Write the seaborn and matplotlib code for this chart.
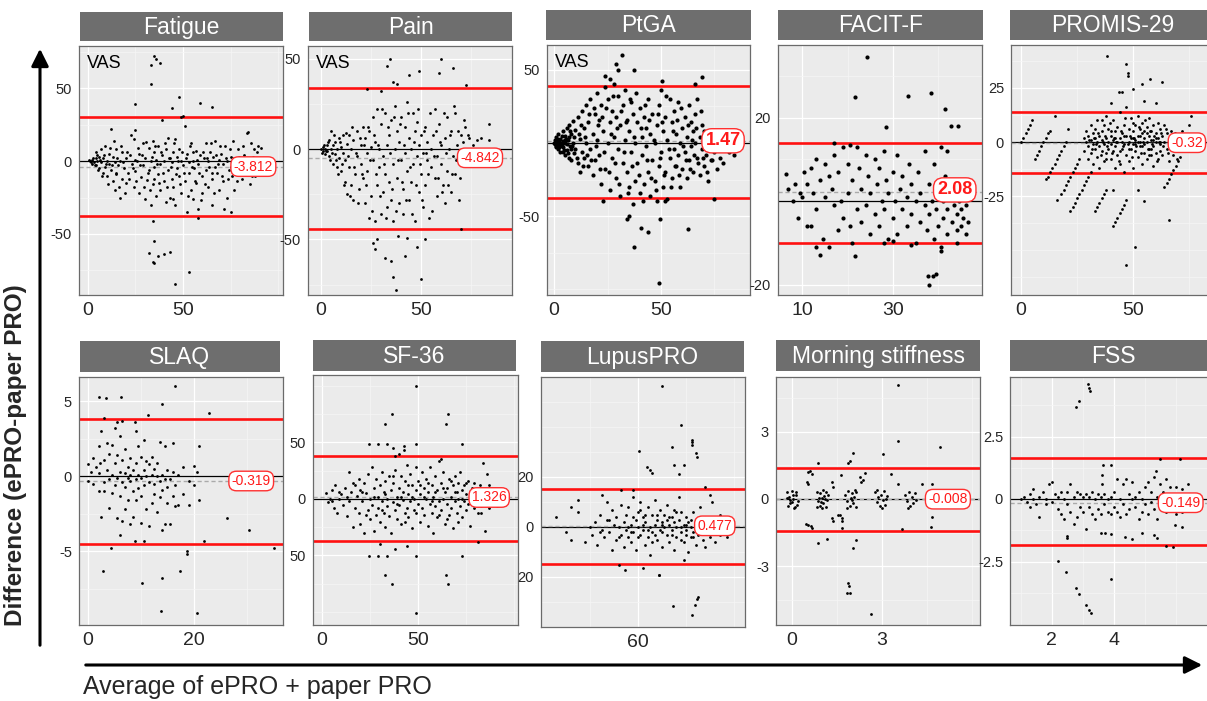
import matplotlib
matplotlib.use("Agg")
import matplotlib.pyplot as plt
from matplotlib.ticker import FixedLocator
import seaborn as sns

sns.set_theme(style="white")
plt.rcParams['font.family'] = ['Liberation Sans', 'DejaVu Sans']

# ---------------- data ----------------
panel_titles = ["Fatigue", "Pain", "PtGA", "FACIT-F", "PROMIS-29",
                "SLAQ", "SF-36", "LupusPRO", "Morning stiffness", "FSS"]
panel_means = [-3.812, -4.842, 1.47, 2.08, -0.32, -0.319, 1.326, 0.477, -0.008, -0.149]
panel_upper = [30.1, 33.5, 39.0, 13.9, 14.0, 3.78, 38.3, 15.2, 1.40, 1.65]
panel_lower = [-37.7, -44.0, -37.5, -10.06, -14.4, -4.49, -37.2, -14.9, -1.45, -1.84]
panel_mean_labels = ["-3.812", "-4.842", "1.47", "2.08", "-0.32",
                     "-0.319", "1.326", "0.477", "-0.008", "-0.149"]
panel_vas = [True, True, True, False, False, False, False, False, False, False]
x_ticks = [[0, 50], [0, 50], [0, 50], [10, 30], [0, 50],
           [0, 20], [0, 50], [60], [0, 3], [2, 4]]
y_ticks = [[-50, 0, 50], [-50, 0, 50], [-50, 50], [-20, 20], [-25, 0, 25],
           [-5, 0, 5], [-50, 0, 50], [-20, 0, 20], [-3, 0, 3], [-2.5, 0, 2.5]]
y_tick_labels = [["-50", "0", "50"], ["-50", "0", "50"], ["-50", "50"], ["-20", "20"],
                 ["-25", "0", "25"], ["-5", "0", "5"], ["50", "0", "50"],
                 ["20", "0", "20"], ["-3", "0", "3"], ["-2.5", "0", "2.5"]]

fatigue_pts = [(1,0),(2,1),(3,-1),(2,-2),(4,2),(4,-3),(5,0),(5,4),(6,-5),(6,3),(7,-1),(7,8),(8,-8),(8,2),(9,-4),(9,10),(10,0),(10,-10),(11,5),(11,-2),(12,22),(12,-6),(13,-14),(13,3),(14,-20),(14,-1),(15,8),(15,-9),(16,-3),(17,-25),(17,0),(18,6),(18,-12),(19,-5),(20,2),(20,-15),(21,-8),(22,4),(23,-2),(24,15),(24,-18),(25,21),(25,-7),(26,0),(27,-22),(27,5),(28,-11),(29,12),(29,-3),(30,-26),(30,2),(31,-13),(32,9),(32,-6),(33,0),(33,-30),(34,14),(34,-16),(35,-4),(35,6),(36,-24),(36,1),(37,10),(37,-9),(38,-2),(38,-20),(39,28),(39,4),(40,-14),(40,0),(41,-28),(41,8),(42,-6),(42,16),(43,-25),(43,2),(44,-12),(44,-1),(45,6),(45,-18),(46,15),(46,-30),(47,-5),(47,3),(48,-10),(48,8),(49,-22),(49,0),(50,31),(50,-3),(51,-14),(51,24),(52,-35),(52,5),(53,-8),(53,-1),(54,-20),(54,12),(55,0),(55,-26),(56,-5),(57,7),(57,-15),(58,-2),(58,-33),(59,4),(60,-10),(60,-22),(61,2),(62,-6),(62,12),(63,-18),(63,0),(64,6),(65,-12),(65,-30),(66,3),(67,-4),(67,14),(68,-8),(69,-20),(69,1),(70,5),(71,-14),(71,-2),(72,10),(73,-25),(73,0),(74,-6),(75,-35),(75,3),(76,-10),(77,2),(77,-20),(78,-5),(79,8),(80,-2),(81,-12),(82,4),(83,-8),(84,20),(84,0),(85,-16),(86,12),(86,-4),(87,3),(88,-10),(89,6),(90,-2),(91,9),(92,1),
               (0.5,1),(1.5,-1),(2.5,2),(3.5,-3),(4.5,6),(5.5,-6),(6.5,1),(7.5,-10),(8.5,4),(9.5,-2),(10.5,-16),(11.5,9),(12.5,-3),(13.5,14),(14.5,-8),(15.5,2),(16.5,-18),(17.5,10),(18.5,-1),(19.5,-22),(20.5,6),(21.5,-12),(22.5,18),(23.5,-5),(24.5,1),(25.5,-14),(26.5,9),(27.5,-3),(28.5,4),(29.5,-18),(30.5,13),(31.5,-8),(32.5,-20),(33.5,3),(34.5,-12),(35.5,10),(36.5,-2),(37.5,-15),(38.5,6),(39.5,-8),(40.5,12),(41.5,-18),(42.5,2),(43.5,-4),(44.5,-26),(45.5,12),(46.5,-9),(47.5,0),(48.5,-16),(49.5,6),(50.5,-8),(51.5,2),(52.5,-24),(53.5,10),(54.5,-4),(55.5,6),(56.5,-14),(57.5,1),(58.5,-8),(59.5,-27),(60.5,6),(61.5,-16),(62.5,2),(63.5,-4),(64.5,12),(65.5,-8),(66.5,-22),(67.5,4),(68.5,-2),(69.5,10),(70.5,-10),(71.5,-33),(72.5,2),(73.5,-12),(74.5,8),(75.5,-4),(76.5,14),(77.5,-2),(78.5,-14),(79.5,3),(80.5,-7),(81.5,10),(82.5,-3),(83.5,19),(84.5,-6),(85.5,2),(86.5,-10),(87.5,8),(88.5,-2),(89.5,10),
               (33,53),(33,66),(35,72),(36,70),(38,67),(44,36),(48,44),(59,40),(65,37),(25,39),(34,-41),(35,-55),(32,-63),(37,-65),(40,-64),(43,-62),(34,-69),(35,-70),(53,-76),(46,-84),(58,-39),(49,30)]

pain_pts = [(0,0),(1,-1),(1,1),(2,0),(2,-3),(3,2),(3,-1),(4,5),(4,-4),(5,0),(5,10),(6,-8),(6,2),(7,-3),(7,4),(8,-10),(8,0),(9,6),(9,-5),(10,-12),(10,1),(11,8),(11,-2),(12,-18),(12,-6),(13,3),(13,-25),(14,-10),(14,8),(15,-20),(15,0),(16,-28),(16,5),(17,-14),(18,10),(18,-4),(19,-22),(20,2),(20,-8),(21,12),(21,-16),(22,-30),(22,6),(23,-12),(23,-2),(24,-38),(24,10),(25,-26),(25,1),(26,18),(26,-6),(27,-40),(27,4),(28,-20),(28,22),(29,-10),(29,0),(30,-36),(30,14),(31,-4),(31,-24),(32,20),(32,-14),(33,-32),(33,2),(34,8),(34,-18),(35,-28),(35,16),(36,-8),(36,-40),(37,24),(37,0),(38,-16),(38,10),(39,-30),(39,4),(40,-6),(40,18),(41,-22),(41,-36),(42,12),(42,-2),(43,-12),(43,26),(44,-28),(44,6),(45,0),(45,-18),(46,20),(46,-8),(47,-40),(47,10),(48,-4),(48,15),(49,-24),(49,2),(50,-14),(50,8),(51,-32),(51,-2),(52,12),(52,-20),(53,-6),(53,4),(54,-38),(55,0),(55,-10),(56,8),(57,-16),(57,22),(58,-4),(58,-26),(59,14),(60,-8),(60,2),(61,-20),(62,6),(62,-30),(63,-12),(63,18),(64,0),(65,-24),(65,10),(66,-4),(67,20),(67,-14),(68,2),(69,-28),(70,8),(70,-6),(71,4),(72,-2),(72,12),(73,0),(74,6),(75,-1),(78,5),(84,5),(84,14),
            (0.5,-2),(1.5,2),(2.5,-1),(3.5,4),(4.5,-6),(5.5,-2),(6.5,8),(7.5,-6),(8.5,-14),(9.5,4),(10.5,-8),(11.5,-20),(12.5,9),(13.5,-4),(14.5,-26),(15.5,12),(16.5,-10),(17.5,-2),(18.5,-30),(19.5,6),(20.5,-14),(21.5,2),(22.5,-20),(23.5,12),(24.5,-6),(25.5,-34),(26.5,8),(27.5,-14),(28.5,2),(29.5,-26),(30.5,22),(31.5,-8),(32.5,-38),(33.5,12),(34.5,-2),(35.5,-22),(36.5,18),(37.5,-34),(38.5,-6),(39.5,14),(40.5,-18),(41.5,2),(42.5,-28),(43.5,20),(44.5,-10),(45.5,-36),(46.5,4),(47.5,-20),(48.5,22),(49.5,-8),(50.5,-28),(51.5,10),(52.5,-2),(53.5,-14),(54.5,20),(55.5,-34),(56.5,-4),(57.5,10),(58.5,-16),(59.5,4),(60.5,-24),(61.5,20),(62.5,-2),(63.5,-20),(64.5,8),(65.5,-14),(66.5,24),(67.5,-6),(68.5,10),(69.5,-16),(70.5,0),(71.5,16),(72.5,-8),(73.5,8),(74.5,-4),(76,2),(80,6),
            (34.5,50),(33,46),(60,50),(66,45),(59,42),(49,43),(44,41),(38,36),(36,37),(30,32),(23,33),(72.5,35.5),(26,-52),(28,-50),(27,-55),(32,-60),(35,-62),(42,-59),(48,-54),(52,-50),(50,-72),(36,-71),(37.5,-78),(38.5,-48),(43,-49),(70,-44)]

ptga_pts = [(0,0),(0.5,2),(1,-2),(1,4),(1.5,0),(2,-4),(2,6),(2.5,1),(3,-6),(3,3),(3.5,-1),(4,8),(4,-3),(5,5),(5,-8),(5,0),(6,10),(6,-5),(6.5,2),(7,-10),(7,12),(7.5,-2),(8,6),(8,-12),(9,15),(9,0),(9.5,-7),(10,9),(10,-4),(11,18),(11,-14),(12,3),(12,-20),(13,22),(13,-6),(14,10),(14,-10),(15,26),(15,0),(16,-16),(16,14),(17,30),(17,-4),(18,6),(18,-22),(19,20),(19,-12),(20,34),(20,2),(21,-8),(21,16),(22,-28),(22,26),(23,8),(23,-40),(24,-18),(24,38),(25,0),(25,30),(26,-32),(26,14),(27,22),(27,-10),(28,40),(28,4),(29,-24),(29,18),(30,-4),(30,32),(31,12),(31,-36),(32,26),(32,-14),(33,2),(33,36),(34,-20),(34,16),(35,-30),(35,8),(36,28),(36,-6),(37,-42),(37,20),(38,0),(38,-26),(39,14),(39,-14),(40,24),(40,-34),(41,4),(41,-8),(42,18),(42,-28),(43,-2),(43,10),(44,-20),(44,30),(45,-36),(45,6),(46,-12),(46,20),(47,-26),(47,0),(48,-40),(48,12),(49,26),(49,-16),(50,-6),(50,36),(51,-30),(51,8),(52,-20),(52,18),(53,2),(53,-38),(54,-10),(54,30),(55,14),(55,-24),(56,-4),(56,22),(57,6),(57,-16),(58,28),(58,-8),(59,-30),(59,0),(60,10),(60,-18),(61,18),(61,-6),(62,-24),(62,4),(63,26),(63,-12),(64,-2),(64,14),(65,-20),(65,8),(66,0),(66,20),(67,-10),(67,30),(68,4),(68,-22),(69,12),(69,-4),(70,-16),(70,8),(71,-8),(71,2),(72,-26),(73,-4),(74,4),(74,-12),(75,-6),(76,-18),(77,0),(80,-5),(80,2),(84,3),(84,-8),
            (0.5,-1),(1.5,3),(2.5,-3),(3.5,5),(4.5,-5),(5.5,3),(6.5,-7),(7.5,8),(8.5,-2),(9.5,4),(10.5,-10),(11.5,6),(12.5,12),(13.5,-16),(14.5,4),(15.5,-8),(16.5,20),(17.5,-12),(18.5,24),(19.5,-2),(20.5,12),(21.5,-18),(22.5,18),(23.5,-6),(24.5,24),(25.5,-20),(26.5,6),(27.5,32),(28.5,-14),(29.5,10),(30.5,-28),(31.5,22),(32.5,-6),(33.5,14),(34.5,-34),(35.5,30),(36.5,-16),(37.5,4),(38.5,34),(39.5,-22),(40.5,10),(41.5,-40),(42.5,26),(43.5,-12),(44.5,16),(45.5,-24),(46.5,2),(47.5,-32),(48.5,20),(49.5,-10),(50.5,14),(51.5,-22),(52.5,32),(53.5,-4),(54.5,-30),(55.5,8),(56.5,-16),(57.5,16),(58.5,-22),(59.5,24),(60.5,-2),(61.5,-12),(62.5,12),(63.5,-18),(64.5,2),(65.5,-8),(66.5,10),(67.5,-14),(68.5,22),(69.5,-10),(70.5,0),(71.5,-20),(72.5,6),(73.5,-12),(75.5,-3),(77.5,-10),(79,-14),(82,-6),
            (1,1),(2,-1),(3,0),(4,1),(2,2),(3,-2),(1,-3),(5,2),(6,-1),(4,-6),(7,4),(8,-4),
            (31.6,60),(29,54),(30,50),(37.5,50),(23.8,45.7),(26,44),(69,45),(50.6,42.6),(66,40),(37.5,-71.3),(48.9,-96),(34,-52),(35,-50),(40.8,-58),(44,-61),(49.5,-52),(62.6,-59),(75,-38),(52,-40)]

facit_pts = [(6.5,6.5),(7,3),(8,0),(8.5,4),(9,-4),(9.5,2),(10,1),(10.5,7),(11,-6),(11,4),(12,-6),(12,8),(12.5,2),(13,10),(13,-2),(14,-13),(14,5),(14.5,-9),(15,9),(15,1),(16,6),(16,-11),(16.5,3),(17,11),(17,-1),(18,-7),(18,7),(18.5,0),(19,13),(19,-4),(20,2),(20,9),(20.5,-6),(21,5),(21,-10),(22,13),(22,-2),(22.5,8),(23,-5),(23,3),(24,11),(24,-1),(24.5,6),(25,-8),(25,2),(26,10),(26,-3),(26.5,4),(27,-6),(27,8),(27.5,0),(28,12),(28,-2),(28.5,5),(29,-9),(29,2),(30,7),(30,-4),(30.5,0),(31,11),(31,-8),(31.5,3),(32,-2),(32,6),(33,-6),(33,1),(33.5,9),(34,-3),(34,4),(35,-10),(35,0),(35.5,7),(36,-5),(36,2),(37,-1),(37,12),(37.5,-7),(38,4),(38,-3),(38.5,0),(39,-9),(39,9),(39.5,-2),(40,2),(40,-6),(40.5,-11),(41,0),(41,-4),(41.5,6),(42,-2),(42,-8),(42.5,1),(43,-5),(43,3),(43.5,-1),(44,-7),(44,-3),(44.5,0),(45,-6),(45,-2),(45.5,-4),(46,-8),(46,-1),(46.5,-5),
             (24.2,34.6),(21.6,24.9),(33.4,25.1),(38.4,25.9),(41.4,22),(42.8,17.9),(44.3,17.9),(28.5,17.8),(21.6,-13.2),(40.6,-12),(37.7,-18),(38.9,-18),(39.5,-17.5),(38,-20),(20.5,13.5),(17,14),(40.5,13),(42,12),(44,-10),(13,-11),(28,-10),(30,-9.5),(34,-10.5)]

promis_pts = [(0,0),(1,2),(2,4),(3,6),(4,8),(5,10),
              (6,-8),(7,-6),(8,-4),(9,-2),(10,0),(11,2),(12,4),(13,5),
              (12,-16),(13,-14),(14,-12),(15,-10),(16,-8),(17,-6),(18,-4),(19,-2),(20,0),
              (18,-24),(19,-22),(20,-20),(21,-18),(22,-16),(23,-14),(24,-12),(25,-10),(26,-8),
              (22,-32),(23,-30),(24,-28),(25,-26),(26,-24),(27,-22),(28,-20),(29,-18),(30,-16),(31,-14),
              (33,-32),(34,-30),(35,-28),(36,-26),(37,-24),(38,-22),
              (41,-39),(42,-37),(43,-35),(44,-33),(45,-31),(46,-29),(47,-27),
              (64,-21),(65,-19),(66,-17),(67,-15),(68,-13),(69,-11),(70,-9),(71,-7),
              (15,12),(11,-17),(16,-27),(21,6),
              (28,2),(28,-4),(29,0),(29,5),(30,-2),(30,-8),(30,3),(31,1),(31,-5),(31,8),(32,-1),(32,4),(32,-10),(33,2),(33,-3),(33,6),(34,0),(34,-7),(34,10),(35,3),(35,-2),(35,-12),(36,5),(36,-4),(36,1),(37,-1),(37,8),(37,-9),(38,2),(38,-5),(38,12),(39,0),(39,-3),(39,6),(40,-8),(40,3),(40,-1),(41,10),(41,-4),(41,1),(42,-12),(42,5),(42,-2),(43,0),(43,7),(43,-6),(44,2),(44,-10),(44,14),(45,-3),(45,4),(45,0),(46,-14),(46,8),(46,-1),(47,3),(47,-6),(47,16),(48,0),(48,-9),(48,6),(49,-3),(49,11),(49,2),(50,-1),(50,5),(50,-12),(51,8),(51,-4),(51,1),(52,3),(52,-7),(52,12),(53,0),(53,-2),(53,6),(54,-10),(54,4),(54,9),(55,-5),(55,2),(55,-1),(56,7),(56,-8),(56,0),(57,3),(57,-3),(57,11),(58,-6),(58,1),(58,5),(59,-2),(59,8),(59,-11),(60,0),(60,4),(60,-5),(61,2),(61,-8),(61,9),(62,-1),(62,6),(62,-4),(63,3),(63,-6),(64,0),(64,8),(65,-3),(65,4),(66,1),(66,-9),(67,5),(67,-2),(68,0),(68,-6),(69,3),(70,-4),(71,1),(72,5),(73,-3),(75,8),(76,12),
              (30.5,1),(31.5,-3),(32.5,2),(33.5,-1),(34.5,4),(35.5,-6),(36.5,0),(37.5,3),(38.5,-2),(39.5,9),(40.5,-5),(41.5,2),(42.5,0),(43.5,-9),(44.5,5),(45.5,-2),(46.5,11),(47.5,-1),(48.5,3),(49.5,-7),(50.5,2),(51.5,-2),(52.5,7),(53.5,-5),(54.5,0),(55.5,10),(56.5,-3),(57.5,5),(58.5,-1),(59.5,3),(60.5,-9),(61.5,0),(62.5,4),(63.5,-2),(64.5,6),(65.5,-5),(66.5,2),(67.5,-1),(68.5,4),(69.5,-8),(44,-4),(46,3),(48,-3),(50,9),(52,0),(54,-2),(56,4),(58,-3),(60,2),(62,0),(40,5),(42,2),(38,-8),(36,10),(50,2),(51,-1),(53,3),(55,5),(57,-6),(59,1),
              (38.5,40),(47,36),(47.5,32),(47.5,30.5),(57.4,29),(63,28),(54,27),(50,24.5),(43.5,23),(45,23),(66,-36),(51,-48.5),(47,-56.7),(54.7,-27.3),(52,-22),(41,-22),(55,19),(60,18),(40,18),(86,-10)]

slaq_pts = [(0,0.8),(0,-0.3),(0.5,0.3),(1,-0.5),(1,1.2),(1.5,0.6),(2,-1),(2,2),(2,0.2),(2.5,-2.7),(2.5,3),(3,-0.4),(3,1.1),(3,-1.0),(3.5,0.4),(3.5,2.2),(4,-0.2),(4,1.5),(4,-2.1),(4.5,0.1),(4.5,2.1),(4.5,-1.1),(5,-0.6),(5,0.9),(5,3.2),(5.5,-0.1),(5.5,1.4),(5.5,-2.8),(6,0.3),(6,-1.3),(6,2.7),(6,-3.9),(6.5,-0.4),(6.5,1.1),(6.5,-3.0),(7,0.2),(7,-0.7),(7,1.8),(7,-2.2),(7.5,-0.1),(7.5,0.6),(7.5,-1.6),(8,0.1),(8,-0.3),(8,1.2),(8,-3.2),(8.5,0.4),(8.5,-1.0),(8.5,-2.7),(9,-0.2),(9,0.9),(9,3.0),(9,-1.6),(9.5,0.1),(9.5,-0.8),(9.5,2.0),(10,-0.1),(10,1.3),(10,-1.3),(10,-3.1),(10.5,0.4),(10.5,-0.6),(10.5,2.4),(11,0.0),(11,-2.2),(11,1.0),(11.5,-0.4),(11.5,0.8),(11.5,-3.3),(12,0.1),(12,-1.8),(12,1.3),(12.5,-0.5),(12.5,0.5),(12.5,-1.2),(13,0.0),(13,-2.4),(13,0.9),(13.5,-0.3),(13.5,-1.4),(13.5,2.3),(14,0.1),(14,-3.6),(14,-0.9),(14.5,-0.2),(14.5,2.0),(14.5,-3.2),(15,-0.7),(15,0.4),(15,-1.8),(15.5,-0.2),(15.5,-3.2),(16,0.3),(16,-1.3),(16,2.2),(16.5,-2.0),(16.5,-0.6),(17,-1.9),(17,0.1),(18,0.6),(18,-1.2),(19,-0.3),(19,-1.9),(20,0.7),(20,-0.6),(20.5,0.3),(21,-1.6),(21,2.0),
            (16.4,6.0),(2.1,5.3),(3.4,5.2),(6.2,5.3),(14,4.8),(22.8,4.2),(11.4,4.07),(3.1,3.9),(6.5,3.7),(8.9,3.6),(4.3,-4.8),(2.8,-6.3),(10.1,-7.1),(13.9,-6.8),(17.3,-6.3),(18.7,-5.0),(18.7,-5.2),(26.3,-2.8),(30.4,-3.6),(35.1,-4.8),(13.8,-9.0),(20.5,-9.1),(21.9,-4.3),(10.5,-4.3),(8.9,-4.3),(5.5,3.6),(2.2,0.9)]

sf36_pts = [(2,5),(3,-3),(4,0),(5,8),(6,-8),(7,12),(8,-12),(9,0),(10,4),(11,-5),(12,10),(13,-15),(14,24),(14,-2),(15,6),(16,-25),(16,14),(17,-8),(18,3),(19,18),(19,-12),(20,-22),(20,8),(21,-2),(22,14),(22,-30),(23,5),(24,-10),(24,22),(25,0),(25,-18),(26,28),(26,-5),(27,10),(27,-28),(28,-14),(28,18),(29,2),(29,-8),(30,12),(30,-20),(31,24),(31,-2),(32,-12),(32,6),(33,16),(33,-25),(34,0),(34,-6),(35,20),(35,-15),(36,8),(36,-30),(37,-3),(37,14),(38,26),(38,-10),(39,2),(39,-18),(40,10),(40,-5),(41,20),(41,-22),(42,-1),(42,6),(43,-12),(43,16),(44,30),(44,-8),(45,4),(45,-16),(46,22),(46,-2),(47,-26),(47,12),(48,0),(48,-10),(49,8),(49,28),(50,-4),(50,16),(51,-20),(51,4),(52,24),(52,-8),(53,-14),(53,10),(54,0),(54,18),(55,-24),(55,6),(56,-4),(56,28),(57,12),(57,-12),(58,2),(58,-30),(59,20),(59,-6),(60,8),(60,-16),(61,-2),(61,34),(62,14),(62,-10),(63,0),(63,24),(64,-22),(64,6),(65,10),(65,-4),(66,18),(66,-14),(67,2),(67,-8),(68,12),(68,-26),(69,-2),(69,20),(70,6),(70,-12),(71,14),(71,0),(72,-6),(72,24),(73,8),(73,-16),(74,-2),(74,12),(75,4),(75,-10),(76,16),(76,-4),(77,0),(77,-24),(78,10),(78,2),(79,-8),(79,14),(80,6),(80,-2),(81,-12),(82,12),(82,0),(83,4),(83,-6),(84,8),(85,-4),(86,22),(86,2),(87,-8),(88,10),(89,-4),(90,6),(91,-6),(92,2),
            (5,-2),(9,6),(13,2),(17,12),(21,6),(23,-14),(27,2),(31,-10),(33,4),(37,20),(39,-4),(41,2),(43,-20),(45,12),(47,2),(49,-12),(51,12),(53,2),(55,14),(57,-2),(59,6),(61,-14),(63,10),(65,-18),(67,16),(69,6),(71,-20),(73,0),(75,14),(77,6),(79,-2),(81,8),(83,-12),(85,4),(87,12),(89,2),
            (49,100),(49,-101),(36.6,75),(65.8,75),(32.8,66),(64.7,66),(36.6,-75.5),(65.8,-75.5),(32.8,-67),(64.7,-67),(24.5,49),(29.3,49),(34,49),(49,49),(72.8,49),(24.5,-50.5),(29.3,-50.5),(34,-50.5),(49,-50.5),(72.8,-50.5),(42.9,47),(42.9,43),(37,45),(38,38),(30,-40),(44,-42),(38,-44),(81,-38),(85,-28),(84,32),(62,35),(40,40)]

lupus_pts = [(26,4),(30,-2),(32,-5),(35,6),(38,-6),(40,0),(41,-3),(42,2),(43,-7),(44,5),(45,-1),(46,-4),(47,10),(47,3),(48,-2),(49,7),(49,-9),(50,1),(51,-5),(51,4),(52,0),(53,9),(53,-3),(54,-8),(54,2),(55,5),(55,-1),(56,-4),(56,8),(57,1),(57,-6),(58,12),(58,-2),(59,3),(59,-9),(60,0),(60,6),(61,-3),(61,10),(62,-1),(62,4),(63,-7),(63,2),(64,8),(64,-4),(65,0),(65,-11),(66,5),(66,-2),(67,11),(67,1),(68,-5),(68,3),(69,-1),(69,7),(70,-8),(70,2),(71,0),(71,5),(72,-3),(72,9),(73,1),(73,-6),(74,4),(74,-1),(75,-9),(75,7),(76,0),(76,-4),(77,3),(77,12),(78,-2),(78,6),(79,-6),(79,1),(80,-1),(80,4),(81,-10),(81,2),(82,0),(82,-4),(83,6),(83,-2),(84,-7),(84,1),(85,3),(85,-3),(86,-1),(86,8),(87,-5),(87,2),(88,0),(88,-8),(89,4),(89,-2),(90,1),(90,-4),(91,10),(91,-1),(92,3),(92,-6),(93,0),(94,-3),(94,5),(95,-1),(96,2),(97,-4),(98,1),
             (44,-2),(48,3),(52,-4),(56,0),(58,4),(60,-4),(62,1),(64,-1),(66,-6),(68,5),(70,-2),(72,3),(74,-3),(76,6),(78,0),(80,-3),(82,3),(84,-1),(86,1),(88,4),(90,-1),(92,-2),(94,2),(96,-1),(70,1),(75,2),(80,1),(85,0),(78,-5),(83,-4),(73,4),(67,-3),(63,5),(57,-2),(61,7),
             (70.1,56.4),(78,41),(82.4,35),(82.4,34),(82.4,33),(84,29.7),(84.5,28),(74.3,32),(60.4,30.4),(75,24.8),(79,24.8),(77.2,21.2),(63.6,24),(65,23),(66,21.6),(68.9,-19),(68.9,-19.3),(74.5,-31.6),(82.6,-35.3),(83.6,-31.3),(84.7,-28.8),(85.1,-27.9),(54.6,-17),(52.2,-15.3),(62.2,-16.5),(79.3,-13.2),(53,15),(58,15),(88,16),(45,13),(35,11),(32,8),(90,13)]

stiff_pts = [(-0.15,0.3),(-0.1,0.1),(-0.05,-0.2),(0,0.35),(0.05,0.0),(0.1,-0.35),(0.15,0.2),(0.2,-0.1),(-0.12,-0.3),(0.02,0.18),(0.12,0.32),(-0.08,-0.05),(0.18,-0.28),(0.06,-0.4),(-0.18,0.05),(0.0,-0.15),
             (0.82,0.3),(0.88,-0.1),(0.92,0.25),(0.95,-0.3),(1.0,0.05),(1.02,0.38),(1.05,-0.2),(1.08,0.15),(1.12,-0.38),(1.15,0.3),(1.18,-0.05),(0.85,-0.35),(0.9,0.05),(0.98,-0.12),(1.1,0.0),(1.2,0.2),(1.0,-0.4),
             (1.78,0.2),(1.82,-0.1),(1.88,0.35),(1.92,-0.3),(1.96,0.05),(2.0,0.25),(2.04,-0.2),(2.08,0.1),(2.12,-0.38),(2.15,0.3),(1.85,-0.4),(2.0,-0.05),(2.1,0.4),
             (2.78,0.3),(2.82,-0.15),(2.88,0.1),(2.92,-0.3),(2.98,0.2),(3.02,-0.05),(3.06,0.35),(3.1,-0.25),(3.15,0.0),(2.85,0.4),(3.0,-0.4),(3.18,0.15),
             (3.78,0.2),(3.85,-0.1),(3.9,0.3),(3.95,-0.3),(4.0,0.1),(4.05,-0.2),(4.1,0.25),(4.15,-0.05),(3.88,-0.4),
             (0.52,1.2),(0.6,1.25),(0.68,1.1),(0.5,0.78),(0.55,0.67),(0.48,-1.1),(0.55,-1.15),(0.62,-1.2),(0.68,-1.3),(0.88,1.63),(0.88,-1.96),(1.16,-1.8),(1.34,0.78),(1.36,0.55),(1.34,-0.84),(1.36,-1.0),(1.55,-0.72),(1.6,-0.7),(1.66,-0.84),(1.68,-0.97),(1.63,1.07),(1.66,-1.3),(1.88,1.6),(1.92,1.68),(2.04,2.07),(2.02,-2.2),(2.15,-1.85),(1.87,-3.76),(1.9,-3.9),(1.92,-4.2),(1.85,-4.2),(2.26,0.98),(2.3,0.76),(2.36,0.85),(2.42,1.18),(2.63,-5.15),(3.04,2.0),(3.3,1.12),(3.54,2.61),(3.52,5.1),(3.54,0.66),(3.66,-1.36),(4.32,0.65),(4.66,0.67),(4.66,-0.8),(4.62,-1.25),(4.93,2.31)]

fss_pts = [(1.0,0.0),(1.1,0.1),(1.2,-0.1),(1.3,0.2),(1.3,-0.3),(1.4,0.4),(1.4,0.0),(1.5,-0.2),(1.6,-0.7),(1.6,0.1),(1.7,0.3),(1.8,0.0),(1.8,-0.2),(1.9,0.6),(2.0,0.7),(2.0,-0.1),(2.1,0.2),(2.2,-0.4),(2.2,0.1),(2.3,-0.6),(2.3,0.3),(2.4,0.0),(2.4,-0.8),(2.5,0.3),(2.5,-0.2),(2.6,0.6),(2.6,-0.5),(2.7,0.1),(2.7,-1.0),(2.8,0.3),(2.8,-0.7),(2.9,-0.3),(2.9,0.2),(3.0,0.1),(3.0,-0.5),(3.1,0.2),(3.1,-1.2),(3.2,-0.3),(3.2,0.1),(3.3,-0.6),(3.3,0.3),(3.4,0.0),(3.4,-0.8),(3.5,0.2),(3.5,-0.4),(3.6,0.1),(3.6,-0.6),(3.7,-0.2),(3.7,0.2),(3.8,-0.5),(3.8,0.0),(3.9,0.1),(3.9,-0.6),(4.0,-0.3),(4.0,0.3),(4.1,0.8),(4.1,-0.5),(4.2,0.0),(4.2,-0.7),(4.3,0.6),(4.3,-0.2),(4.4,0.8),(4.4,-0.6),(4.5,0.2),(4.5,-0.4),(4.6,0.0),(4.6,0.7),(4.7,-0.3),(4.7,0.1),(4.8,-0.8),(4.8,0.3),(4.9,0.0),(4.9,-0.5),(5.0,0.5),(5.0,-0.2),(5.1,0.7),(5.1,-0.6),(5.2,0.3),(5.2,-0.1),(5.3,0.9),(5.3,-0.4),(5.4,0.1),(5.4,-0.8),(5.5,0.6),(5.5,-0.3),(5.6,0.3),(5.6,-0.2),(5.7,0.8),(5.7,-0.5),(5.8,0.0),(5.8,0.5),(5.9,-0.3),(5.9,0.2),(6.0,0.5),(6.0,-0.6),(6.1,0.0),(6.2,-0.5),(6.2,0.4),(6.3,-0.2),(6.4,0.6),(6.5,-0.1),
           (3.17,4.6),(3.2,4.45),(3.23,4.33),(2.77,3.69),(2.88,3.92),(2.2,-2.47),(2.45,-2.93),(2.77,-3.57),(2.88,-3.8),(3.1,-4.24),(3.2,-4.45),(3.26,-4.57),(3.92,-3.2),(3.64,1.36),(3.92,1.36),(3.62,0.95),(3.62,0.6),(5.48,1.61),(6.13,1.61),(5.35,1.14),(2.5,-1.47),(2.5,-1.55),(3.6,-1.35),(3.72,-1.35),(3.9,-1.4),(4.35,-1.5),(4.6,-1.6),(4.9,-1.35),(5.3,-1.45),(5.4,-1.55),(5.68,-1.88),(5.9,-1.93),(5.99,-1.05),(6.2,-1.1)]

panel_points = [fatigue_pts, pain_pts, ptga_pts, facit_pts, promis_pts,
                slaq_pts, sf36_pts, lupus_pts, stiff_pts, fss_pts]

# ---------------- layout (pixels in a 1207x701 canvas) ----------------
W, H = 1207, 701
ax_px = [(79, 46, 283, 295), (308, 46, 512, 295), (547, 45, 750, 295), (778, 45, 982, 295), (1011, 45, 1216, 295),
         (79, 377, 283, 625), (313, 375, 518, 625), (541, 377, 745, 627), (776, 377, 980, 625), (1010, 377, 1216, 625)]
strip_px = [(80, 12, 283, 41), (309, 12, 512, 41), (546, 10, 751, 40), (778, 10, 983, 40), (1010, 10, 1216, 40),
            (80, 341, 280, 372), (313, 340, 516, 371), (541, 341, 744, 372), (776, 340, 980, 371), (1010, 340, 1216, 371)]
xlims = [(-4.7, 102.6), (-6.5, 95.5), (-3.3, 91.6), (4.7, 49.6), (-4.5, 87),
         (-1.7, 36.8), (-4.7, 102), (19.6, 104.6), (-0.53, 6.27), (0.65, 7.3)]
ylims = [(-91.8, 78.8), (-80.7, 57), (-104, 67), (-22.5, 37.4), (-70.8, 44.9),
         (-9.9, 6.6), (-111.5, 109.7), (-40, 60), (-5.64, 5.46), (-5.04, 4.88)]
x_minor = [[25, 75, 100], [25, 75], [25, 75], [20, 40], [25, 75],
           [10, 30], [25, 75, 100], [40, 80, 100], [1.5, 4.5, 6], [1, 3, 5, 6]]
y_minor = [[-75, -25, 25, 75], [-75, -25, 25], [-100, -75, -25, 0, 25], [-10, 0, 10, 30], [-62.5, -50, -37.5, -12.5, 12.5, 37.5],
           [-7.5, -2.5, 2.5], [-100, -75, -25, 25, 75, 100], [-30, -10, 10, 30, 40, 50], [-4.5, -1.5, 1.5, 4.5], [-3.75, -1.25, 1.25, 3.75]]
label_x = [87, 79.5, 79, 43.6, 74, 30.8, 87, 92, 5.2, 6.16]
label_y_off = [0, 0, 0, 0.6, 0, 0, 0, 0, 0, 0]
big = [False, False, True, True, False, False, False, False, False, False]


def rect(l, t, r, b):
    return [l / W, 1 - b / H, (r - l) / W, (b - t) / H]


fig = plt.figure(figsize=(W / 100, H / 100), dpi=100)
fig.patch.set_facecolor("white")

for i in range(10):
    # strip
    sax = fig.add_axes(rect(*strip_px[i]))
    sax.set_facecolor("#6E6E6E")
    sax.set_xticks([]); sax.set_yticks([])
    for sp in sax.spines.values():
        sp.set_visible(False)
    sax.text(0.5, 0.47, panel_titles[i], transform=sax.transAxes, ha="center", va="center",
             color="white", fontsize=16.5)

    ax = fig.add_axes(rect(*ax_px[i]))
    ax.set_facecolor("#EBEBEB")
    xs, ys = zip(*panel_points[i])
    ax.set_xlim(*xlims[i]); ax.set_ylim(*ylims[i])
    ax.xaxis.set_major_locator(FixedLocator(x_ticks[i]))
    ax.yaxis.set_major_locator(FixedLocator(y_ticks[i]))
    ax.xaxis.set_minor_locator(FixedLocator(x_minor[i]))
    ax.yaxis.set_minor_locator(FixedLocator(y_minor[i]))
    ax.grid(True, which="major", color="white", lw=0.9)
    ax.grid(True, which="minor", color="#F6F6F6", lw=0.5)
    ax.set_axisbelow(True)
    ax.set_yticklabels(y_tick_labels[i])
    ax.tick_params(axis="x", which="major", length=4, width=1.2, color="#333333", labelsize=14, pad=1)
    ax.tick_params(axis="y", which="major", length=4, width=1.2, color="#333333", labelsize=10.5, pad=1)
    ax.tick_params(which="minor", length=0)
    for sp in ax.spines.values():
        sp.set_color("#6A6A6A"); sp.set_linewidth(0.9)

    ax.axhline(panel_upper[i], color="#FF1010", lw=1.9, zorder=2)
    ax.axhline(panel_lower[i], color="#FF1010", lw=1.9, zorder=2)
    ax.axhline(0, color="black", lw=0.9, zorder=2)
    ax.axhline(panel_means[i], color="#AAAAAA", lw=1.0, ls=(0, (3, 2)), zorder=2)

    sns.scatterplot(x=list(xs), y=list(ys), ax=ax, color="black",
                    s=(9 if big[i] else 4), linewidth=0, zorder=3, legend=False)

    ax.text(label_x[i], panel_means[i] + label_y_off[i], panel_mean_labels[i],
            ha="center", va="center", color="#FF1A1A",
            fontsize=(13 if big[i] else 10), fontweight=("bold" if big[i] else "normal"), zorder=5,
            bbox=dict(boxstyle="round,pad=0.2,rounding_size=0.55", fc="white", ec="#FF3030", lw=1.0))
    if panel_vas[i]:
        ax.text(0.04, 0.965, "VAS", transform=ax.transAxes, ha="left", va="top", fontsize=13, color="black")
    ax.set_xlabel(""); ax.set_ylabel("")

fig.add_artist(matplotlib.patches.FancyArrowPatch((40, H - 648), (40, H - 46), transform=None,
                                                 arrowstyle="-|>", mutation_scale=26, lw=2.2, color="black"))
fig.add_artist(matplotlib.patches.FancyArrowPatch((83, H - 665), (1205, H - 665), transform=None,
                                                 arrowstyle="-|>", mutation_scale=26, lw=2.2, color="black"))
fig.text(16 / W, 1 - 455 / H, "Difference (ePRO-paper PRO)", rotation=90, ha="center", va="center",
         fontsize=17.5, fontweight="bold")
fig.text(83 / W, 1 - 687 / H, "Average of ePRO + paper PRO", ha="left", va="center", fontsize=18)

fig.savefig("out.png", dpi=100)
